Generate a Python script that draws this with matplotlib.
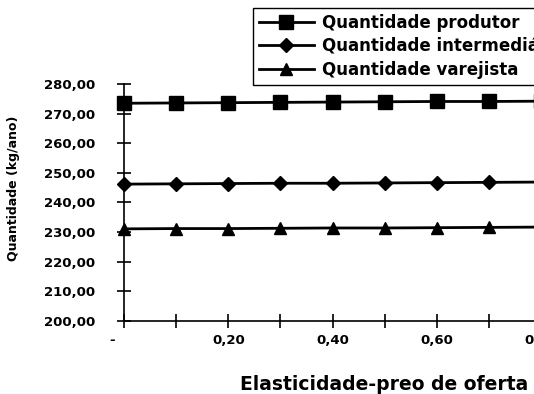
import numpy as np
import matplotlib
matplotlib.use("Agg")
import matplotlib.pyplot as plt

# data
elasticidade = [0.0, 0.1, 0.2, 0.3, 0.4, 0.5, 0.6, 0.7, 0.8]
q_produtor = [273.5, 273.6, 273.7, 273.8, 273.9, 274.0, 274.1, 274.1, 274.2]
q_intermediario = [246.2, 246.3, 246.4, 246.5, 246.5, 246.6, 246.7, 246.8, 246.9]
q_varejista = [231.1, 231.2, 231.2, 231.3, 231.4, 231.4, 231.5, 231.6, 231.7]

y_ticks = [200, 210, 220, 230, 240, 250, 260, 270, 280]
y_labels = ["200,00", "210,00", "220,00", "230,00", "240,00", "250,00", "260,00", "270,00", "280,00"]
x_ticks = [0.0, 0.1, 0.2, 0.3, 0.4, 0.5, 0.6, 0.7, 0.8]
x_labels = ["-     ", "", "0,20", "", "0,40", "", "0,60", "", "0,80"]

plt.rcParams["font.family"] = ["DejaVu Sans"]
plt.rcParams["font.weight"] = "bold"

W, H = 534, 394
fig = plt.figure(figsize=(W / 100, H / 100), dpi=100)
# axes run past the right edge, as in the cropped original
ax = fig.add_axes([124 / W, 1 - 321 / H, (541 - 124) / W, (321 - 84) / H])

ax.plot(elasticidade, q_produtor, color="black", lw=2, marker="s", ms=9.5,
        label="Quantidade produtor", clip_on=False)
ax.plot(elasticidade, q_intermediario, color="black", lw=2, marker="D", ms=7.5,
        label="Quantidade intermediário", clip_on=False)
ax.plot(elasticidade, q_varejista, color="black", lw=2, marker="^", ms=9,
        label="Quantidade varejista", clip_on=False)

ax.set_xlim(0, 0.8)
ax.set_ylim(200, 280)
ax.set_yticks(y_ticks)
ax.set_yticklabels(y_labels)
ax.set_xticks(x_ticks)
ax.set_xticklabels(x_labels)

for s in ["top", "right"]:
    ax.spines[s].set_visible(False)
for s in ["left", "bottom"]:
    ax.spines[s].set_linewidth(1.2)

ax.tick_params(axis="y", direction="inout", length=10, width=1.2, pad=16, labelsize=9.5)
ax.tick_params(axis="x", direction="inout", length=10, width=1.2, pad=4, labelsize=9.5)
for t in ax.get_xticklabels() + ax.get_yticklabels():
    t.set_fontweight("bold")

fig.text(240 / W, 1 - 385 / H, "Elasticidade-preo de oferta", fontsize=13.5,
         fontweight="bold", ha="left", va="center")

fig.text(14 / W, 1 - 188 / H, "Quantidade (kg/ano)", rotation=90, fontsize=9,
         fontweight="bold", ha="center", va="center")

leg = fig.legend(loc="upper left", bbox_to_anchor=(253 / W, 1 - 8 / H),
                 frameon=True, fancybox=False, edgecolor="black", framealpha=1,
                 prop={"weight": "bold", "size": 12}, handlelength=3.3,
                 borderpad=0.35, labelspacing=0.33, handletextpad=0.5,
                 borderaxespad=0)
leg.get_frame().set_linewidth(1.0)

fig.savefig("out.png", dpi=100)
